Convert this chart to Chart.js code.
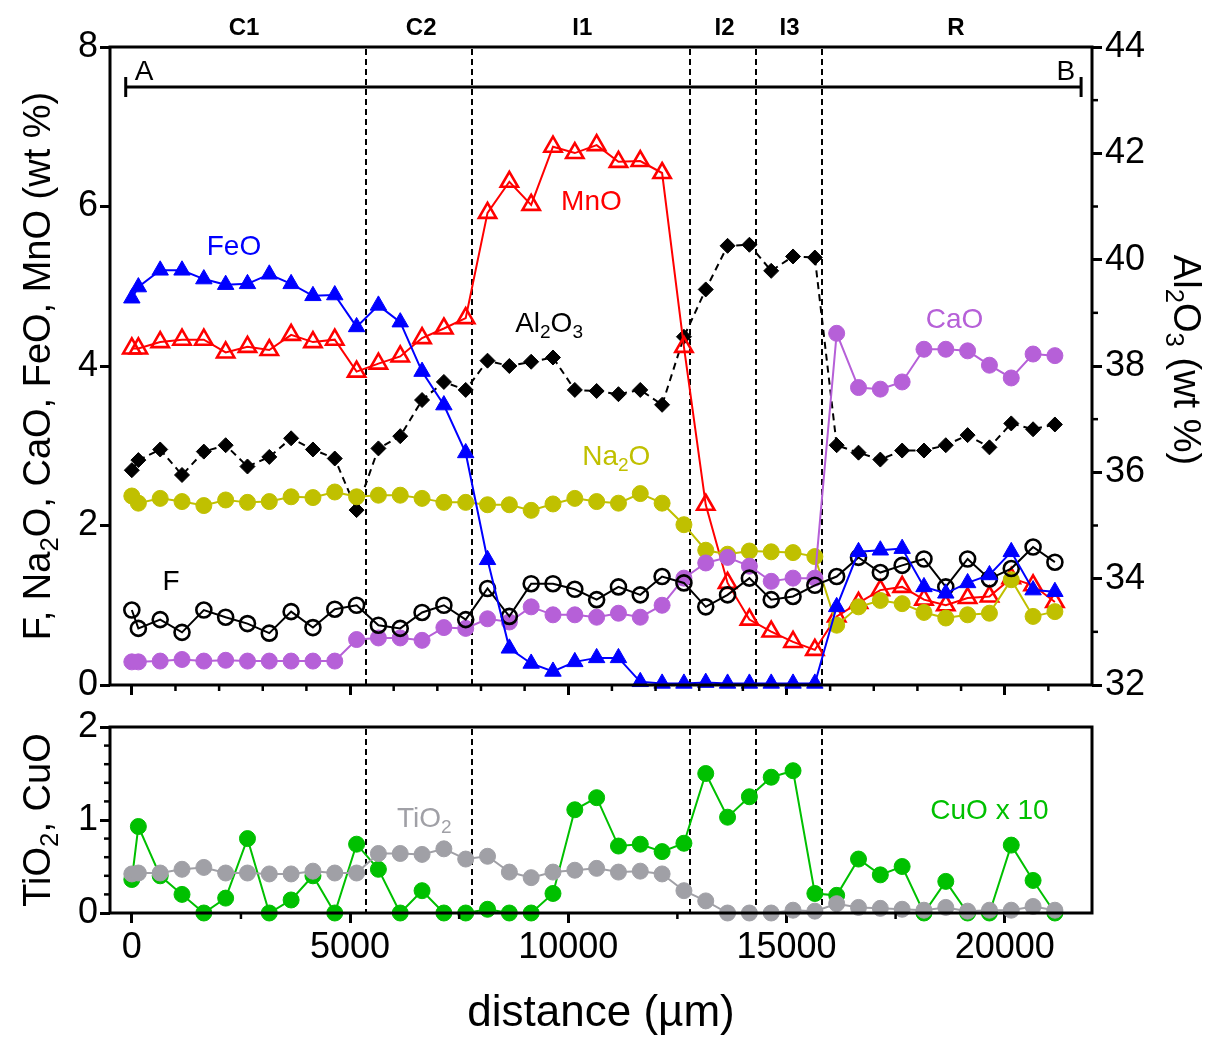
<!DOCTYPE html>
<html><head><meta charset="utf-8">
<script src="https://cdn.jsdelivr.net/npm/chart.js"></script>
<style>
html,body{margin:0;padding:0;background:#fff;}
#wrap{position:relative;width:1213px;height:1039px;background:#fff;}
canvas{position:absolute;left:0;top:0;}
</style></head><body>
<div id="wrap"><canvas id="bot" width="1213" height="1039"></canvas><canvas id="top" width="1213" height="1039"></canvas></div>
<script>
// ---------------- DATA ----------------
const distance = [0, 150, 650, 1150, 1650, 2150, 2650, 3150, 3650, 4150, 4650, 5150, 5650, 6150, 6650, 7150, 7650, 8150, 8650, 9150, 9650, 10150, 10650, 11150, 11650, 12150, 12650, 13150, 13650, 14150, 14650, 15150, 15650, 16150, 16650, 17150, 17650, 18150, 18650, 19150, 19650, 20150, 20650, 21150];
const FeO   = [4.85, 4.99, 5.20, 5.20, 5.09, 5.02, 5.03, 5.15, 5.03, 4.88, 4.89, 4.49, 4.76, 4.55, 3.93, 3.51, 2.91, 1.57, 0.46, 0.27, 0.17, 0.29, 0.34, 0.34, 0.04, 0.02, 0.02, 0.03, 0.02, 0.02, 0.02, 0.02, 0.02, 0.98, 1.67, 1.69, 1.71, 1.23, 1.15, 1.28, 1.38, 1.67, 1.19, 1.17];
const MnO   = [4.22, 4.22, 4.30, 4.33, 4.33, 4.17, 4.24, 4.20, 4.39, 4.30, 4.33, 3.93, 4.03, 4.12, 4.35, 4.47, 4.60, 5.92, 6.31, 6.02, 6.75, 6.67, 6.77, 6.56, 6.57, 6.42, 4.24, 2.26, 1.28, 0.82, 0.67, 0.54, 0.44, 0.86, 1.03, 1.19, 1.23, 1.07, 1.00, 1.09, 1.11, 1.34, 1.25, 1.04];
const Al2O3 = [36.04, 36.23, 36.43, 35.95, 36.39, 36.51, 36.11, 36.29, 36.64, 36.43, 36.26, 35.29, 36.45, 36.68, 37.36, 37.70, 37.55, 38.10, 38.00, 38.08, 38.16, 37.55, 37.53, 37.47, 37.55, 37.27, 38.55, 39.44, 40.26, 40.28, 39.79, 40.06, 40.04, 36.51, 36.37, 36.24, 36.41, 36.41, 36.51, 36.70, 36.47, 36.92, 36.81, 36.90];
const Na2O  = [2.37, 2.28, 2.34, 2.30, 2.25, 2.32, 2.29, 2.30, 2.36, 2.35, 2.42, 2.36, 2.38, 2.38, 2.34, 2.29, 2.29, 2.26, 2.26, 2.19, 2.27, 2.34, 2.30, 2.28, 2.40, 2.28, 2.01, 1.69, 1.64, 1.68, 1.67, 1.66, 1.61, 0.75, 0.98, 1.06, 1.02, 0.91, 0.84, 0.88, 0.90, 1.32, 0.86, 0.92];
const F     = [0.94, 0.71, 0.82, 0.66, 0.94, 0.85, 0.77, 0.65, 0.92, 0.72, 0.95, 1.00, 0.75, 0.71, 0.91, 1.00, 0.82, 1.21, 0.86, 1.27, 1.27, 1.20, 1.07, 1.23, 1.13, 1.36, 1.28, 0.98, 1.13, 1.34, 1.07, 1.11, 1.25, 1.36, 1.60, 1.41, 1.50, 1.58, 1.23, 1.58, 1.33, 1.46, 1.73, 1.54];
const CaO   = [0.29, 0.29, 0.30, 0.32, 0.30, 0.31, 0.30, 0.30, 0.30, 0.30, 0.30, 0.57, 0.59, 0.59, 0.56, 0.72, 0.71, 0.83, 0.79, 0.98, 0.88, 0.88, 0.85, 0.90, 0.85, 1.00, 1.34, 1.53, 1.60, 1.49, 1.30, 1.34, 1.34, 4.41, 3.73, 3.71, 3.80, 4.21, 4.21, 4.19, 4.01, 3.85, 4.15, 4.13];
const TiO2  = [0.42, 0.43, 0.43, 0.47, 0.49, 0.43, 0.43, 0.42, 0.42, 0.45, 0.43, 0.43, 0.64, 0.64, 0.63, 0.69, 0.58, 0.61, 0.44, 0.38, 0.44, 0.46, 0.48, 0.44, 0.45, 0.42, 0.24, 0.13, 0.00, 0.00, 0.00, 0.03, 0.02, 0.10, 0.06, 0.05, 0.04, 0.03, 0.06, 0.02, 0.03, 0.03, 0.07, 0.03];
const CuOx10 = [0.36, 0.93, 0.40, 0.20, 0.00, 0.16, 0.80, 0.00, 0.14, 0.40, 0.00, 0.74, 0.47, 0.00, 0.24, 0.00, 0.00, 0.04, 0.00, 0.00, 0.21, 1.11, 1.24, 0.72, 0.74, 0.66, 0.75, 1.50, 1.03, 1.25, 1.46, 1.53, 0.21, 0.19, 0.58, 0.41, 0.50, 0.00, 0.34, 0.00, 0.00, 0.73, 0.35, 0.00];

const zoneBoundaries = [5360, 7800, 12800, 14300, 15810];
const zoneNames = ['C1', 'C2', 'I1', 'I2', 'I3', 'R'];
const zoneLabelX = [2570, 6630, 10320, 13580, 15070, 18880];

const xMajorTicks = [0, 5000, 10000, 15000, 20000];
const xMinorTop = [1000, 2000, 3000, 4000, 6000, 7000, 8000, 9000, 11000, 12000, 13000, 14000, 16000, 17000, 18000, 19000, 21000];
const xMinorBottom = [2500, 7500, 12500, 17500];
const yLeftTicks = [0, 2, 4, 6, 8];
const yRightTicks = [32, 34, 36, 38, 40, 42, 44];
const yRightMinor = [33, 35, 37, 39, 41, 43];
const yBottomTicks = [0, 1, 2];
const yBottomMinor = [0.2, 0.4, 0.6, 0.8, 1.2, 1.4, 1.6, 1.8];

// ---------------- STYLE ----------------
const FONT = "'Liberation Sans', Arial, Helvetica, sans-serif";
const C = {blue:'#0000ff', red:'#ff0000', olive:'#c0c000', purple:'#b660d8', gray:'#a0a0a6', green:'#00c000', black:'#000000'};
const TICKFONT = 36;

Chart.defaults.font.family = FONT;
Chart.defaults.color = '#000';

function pts(arr){ return distance.map((d,i)=>({x:d, y:arr[i]})); }
function series(label, arr, color, style, radius, open, extra){
  return Object.assign({
    label, data: pts(arr), borderColor: color, borderWidth: 2,
    pointStyle: style, pointRadius: radius,
    pointBackgroundColor: open ? 'rgba(0,0,0,0)' : color,
    pointBorderColor: color, pointBorderWidth: open ? 2.6 : 1,
    tension: 0, clip: false, fill: false
  }, extra || {});
}

function parseRich(s){
  const parts=[]; let buf='';
  for(let i=0;i<s.length;i++){
    if(s[i]==='_'){ if(buf){parts.push({t:buf,sub:false});buf='';} parts.push({t:s[i+1],sub:true}); i++; }
    else buf+=s[i];
  }
  if(buf) parts.push({t:buf,sub:false});
  return parts;
}
function fstr(size,bold){ return (bold?'bold ':'')+size+'px '+FONT; }
function drawRich(ctx, s, cx, baseY, size, color, rot, bold){
  const parts=parseRich(s);
  ctx.save();
  ctx.translate(cx, baseY); ctx.rotate(rot||0);
  ctx.fillStyle=color; ctx.textBaseline='alphabetic'; ctx.textAlign='left';
  let w=0;
  parts.forEach(p=>{ ctx.font=fstr(p.sub?size*0.68:size,bold); w+=ctx.measureText(p.t).width; });
  let x=-w/2;
  parts.forEach(p=>{ const sz=p.sub?size*0.68:size; ctx.font=fstr(sz,bold); ctx.fillText(p.t,x,p.sub?size*0.22:0); x+=ctx.measureText(p.t).width; });
  ctx.restore();
}
function seg(ctx,x1,y1,x2,y2){ ctx.beginPath(); ctx.moveTo(x1,y1); ctx.lineTo(x2,y2); ctx.stroke(); }

function dashedZones(chart){
  const {ctx, chartArea:a} = chart; const xs = chart.scales.x;
  ctx.save(); ctx.strokeStyle='#000'; ctx.lineWidth=2; ctx.setLineDash([6,4]);
  zoneBoundaries.forEach(b=>{ const X=Math.round(xs.getPixelForValue(b)); seg(ctx,X,a.top+2,X,a.bottom); });
  ctx.restore();
}

const topLabels = [
  {t:'FeO', x:2340, y:5.52, c:C.blue},
  {t:'MnO', x:10530, y:6.08, c:C.red},
  {t:'Al_2O_3', x:9560, y:4.55, c:C.black},
  {t:'Na_2O', x:11100, y:2.88, c:C.olive},
  {t:'F', x:900, y:1.32, c:C.black},
  {t:'CaO', x:18850, y:4.60, c:C.purple}
];
const botLabels = [
  {t:'TiO_2', x:6700, y:1.03, c:C.gray},
  {t:'CuO x 10', x:19650, y:1.12, c:C.green}
];

const topDecor = {
  id:'topDecor',
  beforeDatasetsDraw(chart){ dashedZones(chart); },
  afterDraw(chart){
    const {ctx, chartArea:a} = chart; const xs=chart.scales.x, ys=chart.scales.y, y2=chart.scales.y2;
    ctx.save();
    ctx.strokeStyle='#000'; ctx.lineWidth=3;
    ctx.strokeRect(a.left, a.top, a.right-a.left, a.bottom-a.top);
    ctx.lineWidth=2.5;
    xMinorTop.forEach(v=>{ const X=xs.getPixelForValue(v); seg(ctx,X,a.bottom,X,a.bottom+6); });
    yRightMinor.forEach(v=>{ const Y=y2.getPixelForValue(v); seg(ctx,a.right,Y,a.right+6,Y); });
    // A-B traverse
    const yl = Math.round(ys.getPixelForValue(7.5));
    const xa = xs.getPixelForValue(-140), xb = xs.getPixelForValue(21750);
    ctx.lineWidth=3;
    seg(ctx,xa,yl,xb,yl); seg(ctx,xa,yl-10,xa,yl+10); seg(ctx,xb,yl-10,xb,yl+10);
    drawRich(ctx,'A',xs.getPixelForValue(280),yl-7,28,'#000');
    drawRich(ctx,'B',xs.getPixelForValue(21400),yl-7,28,'#000');
    // zone names
    zoneNames.forEach((n,i)=>drawRich(ctx,n,xs.getPixelForValue(zoneLabelX[i]),a.top-12,24,'#000',0,true));
    // series labels
    topLabels.forEach(l=>drawRich(ctx,l.t,xs.getPixelForValue(l.x),ys.getPixelForValue(l.y)+10,28,l.c));
    // axis titles
    drawRich(ctx,'F, Na_2O, CaO, FeO, MnO (wt %)',50,(a.top+a.bottom)/2,38,'#000',-Math.PI/2);
    drawRich(ctx,'Al_2O_3 (wt %)',1174,(a.top+a.bottom)/2-6,38,'#000',Math.PI/2);
    ctx.restore();
  }
};

const botDecor = {
  id:'botDecor',
  beforeDatasetsDraw(chart){ dashedZones(chart); },
  afterDraw(chart){
    const {ctx, chartArea:a} = chart; const xs=chart.scales.x, ys=chart.scales.y;
    ctx.save();
    ctx.strokeStyle='#000'; ctx.lineWidth=3;
    ctx.strokeRect(a.left, a.top, a.right-a.left, a.bottom-a.top);
    ctx.lineWidth=2.5;
    xMinorBottom.forEach(v=>{ const X=xs.getPixelForValue(v); seg(ctx,X,a.bottom,X,a.bottom+6); });
    yBottomMinor.forEach(v=>{ const Y=ys.getPixelForValue(v); seg(ctx,a.left,Y,a.left-6,Y); });
    botLabels.forEach(l=>drawRich(ctx,l.t,xs.getPixelForValue(l.x),ys.getPixelForValue(l.y)+10,28,l.c));
    drawRich(ctx,'TiO_2, CuO',50,(a.top+a.bottom)/2,38,'#000',-Math.PI/2);
    drawRich(ctx,'distance (\u00b5m)',(a.left+a.right)/2,1026,44,'#000');
    ctx.restore();
  }
};

function gridOpts(){ return {display:true, drawOnChartArea:false, drawTicks:true, tickLength:10, tickWidth:3, tickColor:'#000'}; }
function fixedTicks(list){ return (axis)=>{ axis.ticks = list.map(v=>({value:v})); }; }
const plainLabel = (v)=>String(v);

new Chart(document.getElementById('top'), {
  type:'line',
  data:{ datasets:[
    series('FeO', FeO, C.blue, 'triangle', 9.5, false),
    series('F', F, C.black, 'circle', 7.5, true),
    series('CaO', CaO, C.purple, 'circle', 8, false),
    series('Na2O', Na2O, C.olive, 'circle', 8, false),
    series('MnO', MnO, C.red, 'triangle', 10, true),
    series('Al2O3', Al2O3, C.black, 'rectRot', 7.5, false, {yAxisID:'y2', borderDash:[7,5]})
  ]},
  options:{
    responsive:false, animation:false, devicePixelRatio:1, events:[],
    layout:{padding:{top:47,left:0,right:0,bottom:0}},
    plugins:{legend:{display:false}, tooltip:{enabled:false}},
    scales:{
      x:{type:'linear', min:-500, max:22000, afterBuildTicks:fixedTicks(xMajorTicks),
         ticks:{display:false}, grid:gridOpts(), border:{display:false},
         afterFit:(s)=>{ s.height = 1039-685; }},
      y:{position:'left', min:0, max:8, afterBuildTicks:fixedTicks(yLeftTicks),
         ticks:{font:{size:TICKFONT}, color:'#000', padding:2, callback:plainLabel}, grid:gridOpts(), border:{display:false},
         afterFit:(s)=>{ s.width = 110; }},
      y2:{position:'right', min:32, max:44, afterBuildTicks:fixedTicks(yRightTicks),
         ticks:{font:{size:TICKFONT}, color:'#000', padding:3, callback:plainLabel}, grid:gridOpts(), border:{display:false},
         afterFit:(s)=>{ s.width = 121; }}
    }
  },
  plugins:[topDecor]
});

new Chart(document.getElementById('bot'), {
  type:'line',
  data:{ datasets:[
    series('TiO2', TiO2, C.gray, 'circle', 8, false),
    series('CuO x 10', CuOx10, C.green, 'circle', 8, false)
  ]},
  options:{
    responsive:false, animation:false, devicePixelRatio:1, events:[],
    layout:{padding:{top:727,left:0,right:121,bottom:0}},
    plugins:{legend:{display:false}, tooltip:{enabled:false}},
    scales:{
      x:{type:'linear', min:-500, max:22000, afterBuildTicks:fixedTicks(xMajorTicks),
         ticks:{font:{size:TICKFONT}, color:'#000', padding:3, maxRotation:0, callback:plainLabel}, grid:gridOpts(), border:{display:false},
         afterFit:(s)=>{ s.height = 1039-913; }},
      y:{position:'left', min:0, max:2, afterBuildTicks:fixedTicks(yBottomTicks),
         ticks:{font:{size:TICKFONT}, color:'#000', padding:2, callback:plainLabel}, grid:gridOpts(), border:{display:false},
         afterFit:(s)=>{ s.width = 110; }}
    }
  },
  plugins:[botDecor]
});
</script>
</body></html>
